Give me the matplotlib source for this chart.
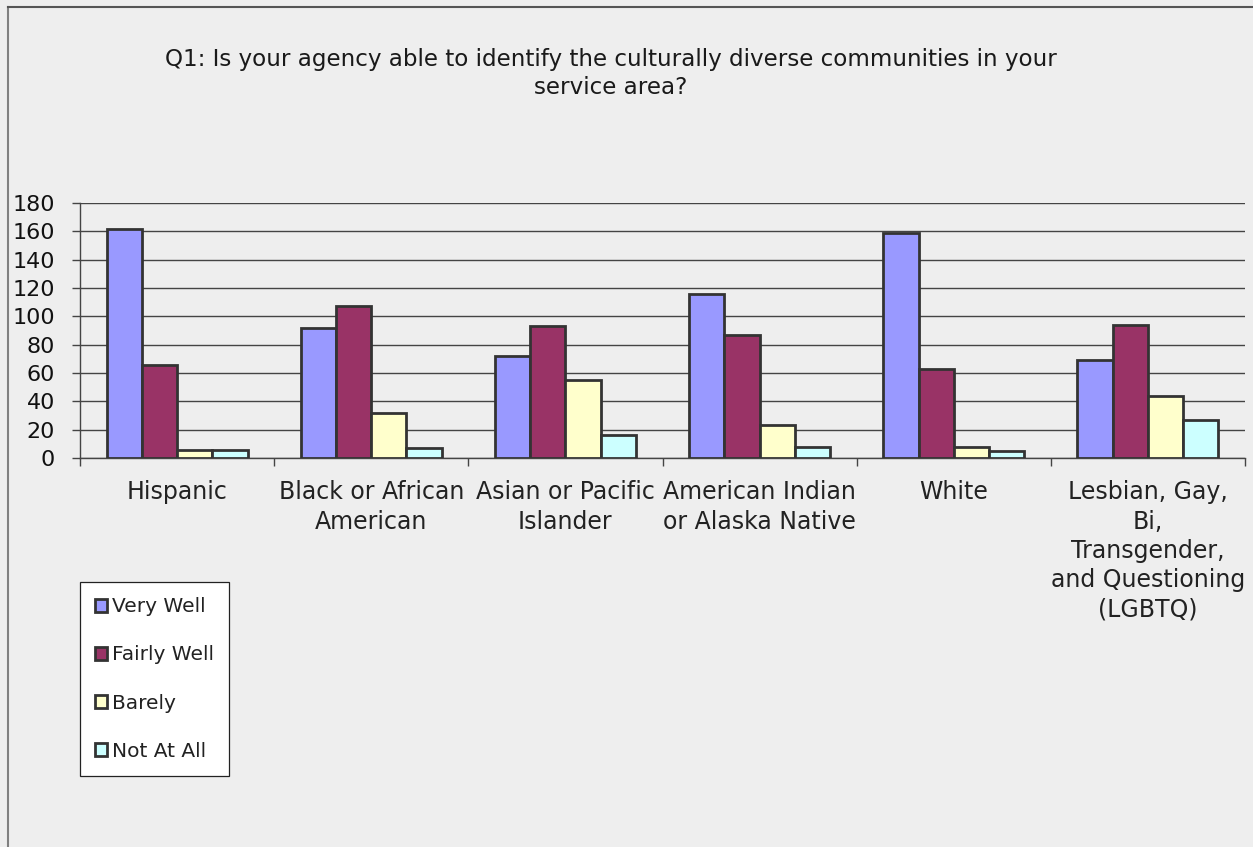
import matplotlib.pyplot as plt
import numpy as np
from matplotlib.lines import Line2D

# Survey responses per community
categories = [
    "Hispanic",
    "Black or African\nAmerican",
    "Asian or Pacific\nIslander",
    "American Indian\nor Alaska Native",
    "White",
    "Lesbian, Gay,\nBi,\nTransgender,\nand Questioning\n(LGBTQ)",
]
series_names = ["Very Well", "Fairly Well", "Barely", "Not At All"]
very_well = [162, 92, 72, 116, 159, 69]
fairly_well = [66, 107, 93, 87, 63, 94]
barely = [6, 32, 55, 23, 8, 44]
not_at_all = [6, 7, 16, 8, 5, 27]
colors = ["#9999FF", "#993366", "#FFFFCC", "#CCFFFF"]

W, H = 1253, 847
bg = "#EEEEEE"
plt.rcParams["font.family"] = ["DejaVu Sans"]

fig = plt.figure(figsize=(W / 100, H / 100), dpi=100, facecolor=bg)
ax = fig.add_axes([80 / W, 1 - 458 / H, (1245 - 80) / W, (458 - 203) / H])
ax.set_facecolor(bg)

x = np.arange(len(categories))
width = 0.1815
all_series = [very_well, fairly_well, barely, not_at_all]
for j, (vals, name, col) in enumerate(zip(all_series, series_names, colors)):
    ax.bar(x + (j - 1.5) * width, vals, width, color=col, edgecolor="#333333",
           linewidth=2.0, label=name, zorder=3)

ax.set_ylim(0, 180)
ax.set_yticks(range(0, 181, 20))
ax.yaxis.grid(True, color="#444444", linewidth=1.0, zorder=0)
ax.tick_params(axis="y", length=6, width=1.0, color="#444444", pad=12,
               labelsize=16, labelcolor="#111111")

ax.set_xlim(-0.5, len(categories) - 0.5)
ax.set_xticks(np.arange(-0.5, len(categories)), minor=False)
ax.set_xticklabels([])
ax.set_xticks(x, minor=True)
ax.set_xticklabels(categories, minor=True, fontsize=17, color="#222222",
                   linespacing=1.28, va="top")
ax.tick_params(axis="x", which="major", length=6, width=1.0, color="#444444")
ax.tick_params(axis="x", which="minor", length=0, pad=16)

for side in ["top", "right"]:
    ax.spines[side].set_visible(False)
for side in ["left", "bottom"]:
    ax.spines[side].set_color("#444444")
    ax.spines[side].set_linewidth(1.0)

fig.text(611 / W, 1 - 48 / H,
         "Q1: Is your agency able to identify the culturally diverse communities in your\nservice area?",
         ha="center", va="top", fontsize=16.6, color="#1a1a1a", linespacing=1.25)

leg = fig.legend(loc="lower left", bbox_to_anchor=(80 / W, 1 - 776 / H),
                 fontsize=14.5, frameon=True, fancybox=False, framealpha=1,
                 edgecolor="#222222", facecolor="white", handlelength=0.6,
                 handleheight=0.6, handletextpad=0.25, labelspacing=1.45,
                 borderpad=0.75, borderaxespad=0)
leg.get_frame().set_linewidth(0.9)
for t in leg.get_texts():
    t.set_color("#222222")

# outer chart frame
fig.add_artist(Line2D([8 / W, 8 / W], [0, 1 - 7 / H], transform=fig.transFigure,
                      color="#808080", linewidth=1.5))
fig.add_artist(Line2D([8 / W, 1], [1 - 7 / H, 1 - 7 / H], transform=fig.transFigure,
                      color="#555555", linewidth=1.5))

fig.savefig("out.png", dpi=100, facecolor=bg)
